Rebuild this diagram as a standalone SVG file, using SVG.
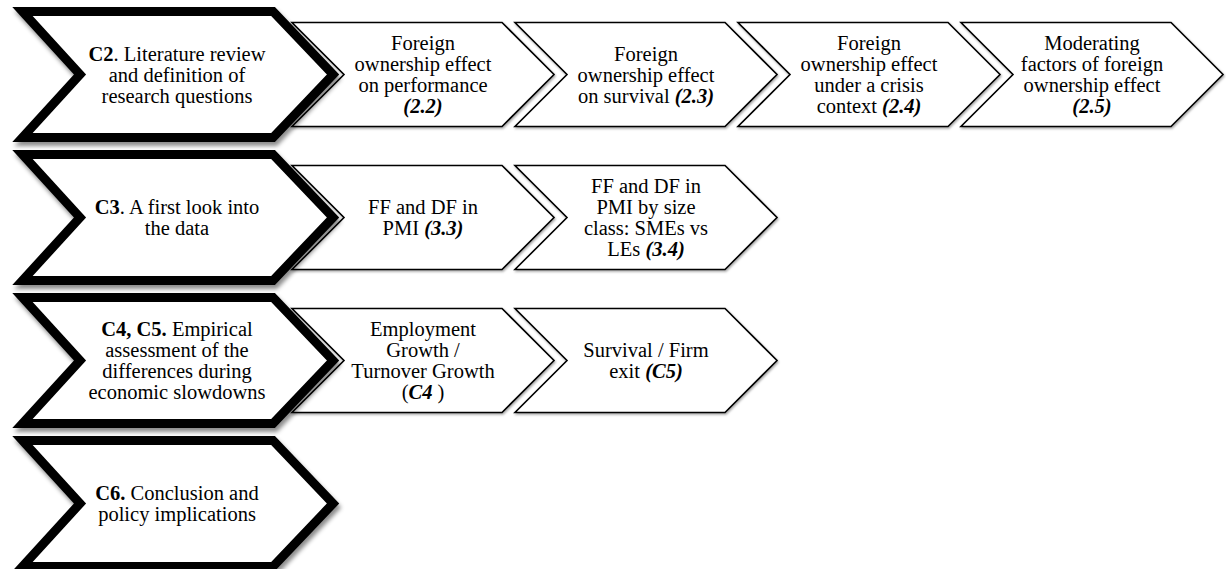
<svg xmlns="http://www.w3.org/2000/svg" width="1226" height="569" viewBox="0 0 1226 569" font-family="'Liberation Serif', 'Times New Roman', 'DejaVu Serif', serif">
<style>
.big{fill:#fff;stroke:#000;stroke-width:9;stroke-linejoin:miter;stroke-miterlimit:10;filter:url(#sh)}
.small{fill:#fff;stroke:#000;stroke-width:1.6;stroke-linejoin:miter;filter:url(#sh2)}
text{font-family:'Liberation Serif','Times New Roman','DejaVu Serif',serif;font-size:20.5px;fill:#000;text-anchor:middle}
.b{font-weight:bold}
.bi{font-weight:bold;font-style:italic}
</style>
<defs>
<filter id="sh" x="-10%" y="-10%" width="130%" height="140%">
<feDropShadow dx="2" dy="4" stdDeviation="2" flood-color="#000" flood-opacity="0.45"/>
</filter>
<filter id="sh2" x="-10%" y="-10%" width="130%" height="140%">
<feDropShadow dx="1" dy="1.5" stdDeviation="0.8" flood-color="#000" flood-opacity="0.35"/>
</filter>
<path id="sc" d="M0,-52 H210 L262,0 L210,52 H0 L52,0 Z"/>
<path id="bc" d="M22.5,-63 H273 L333,0 L273,63 H22.5 L80,0 Z"/>
</defs>
<g id="connectors"/>
<g id="n-2-2">
<use href="#sc" class="small" transform="translate(292,74.5)"/>
<text x="423" y="50" font-family="Liberation Serif, serif">Foreign</text>
<text x="423" y="71" font-family="Liberation Serif, serif">ownership effect</text>
<text x="423" y="92" font-family="Liberation Serif, serif">on performance</text>
<text x="423" y="113" font-family="Liberation Serif, serif"><tspan class="bi">(2.2)</tspan></text>
</g>
<g id="n-2-3">
<use href="#sc" class="small" transform="translate(515,74.5)"/>
<text x="646" y="60.5" font-family="Liberation Serif, serif">Foreign</text>
<text x="646" y="81.5" font-family="Liberation Serif, serif">ownership effect</text>
<text x="646" y="102.5" font-family="Liberation Serif, serif">on survival <tspan class="bi">(2.3)</tspan></text>
</g>
<g id="n-2-4">
<use href="#sc" class="small" transform="translate(738,74.5)"/>
<text x="869" y="50" font-family="Liberation Serif, serif">Foreign</text>
<text x="869" y="71" font-family="Liberation Serif, serif">ownership effect</text>
<text x="869" y="92" font-family="Liberation Serif, serif">under a crisis</text>
<text x="869" y="113" font-family="Liberation Serif, serif">context <tspan class="bi">(2.4)</tspan></text>
</g>
<g id="n-2-5">
<use href="#sc" class="small" transform="translate(961,74.5)"/>
<text x="1092" y="50" font-family="Liberation Serif, serif">Moderating</text>
<text x="1092" y="71" font-family="Liberation Serif, serif">factors of foreign</text>
<text x="1092" y="92" font-family="Liberation Serif, serif">ownership effect</text>
<text x="1092" y="113" font-family="Liberation Serif, serif"><tspan class="bi">(2.5)</tspan></text>
</g>
<g id="n-3-3">
<use href="#sc" class="small" transform="translate(292,217.5)"/>
<text x="423" y="214" font-family="Liberation Serif, serif">FF and DF in</text>
<text x="423" y="235" font-family="Liberation Serif, serif">PMI <tspan class="bi">(3.3)</tspan></text>
</g>
<g id="n-3-4">
<use href="#sc" class="small" transform="translate(515,217.5)"/>
<text x="646" y="193" font-family="Liberation Serif, serif">FF and DF in</text>
<text x="646" y="214" font-family="Liberation Serif, serif">PMI by size</text>
<text x="646" y="235" font-family="Liberation Serif, serif">class: SMEs vs</text>
<text x="646" y="256" font-family="Liberation Serif, serif">LEs <tspan class="bi">(3.4)</tspan></text>
</g>
<g id="n-c4">
<use href="#sc" class="small" transform="translate(292,360.5)"/>
<text x="423" y="336" font-family="Liberation Serif, serif">Employment</text>
<text x="423" y="357" font-family="Liberation Serif, serif">Growth /</text>
<text x="423" y="378" font-family="Liberation Serif, serif">Turnover Growth</text>
<text x="423" y="399" font-family="Liberation Serif, serif">(<tspan class="bi">C4</tspan> )</text>
</g>
<g id="n-c5">
<use href="#sc" class="small" transform="translate(515,360.5)"/>
<text x="646" y="357" font-family="Liberation Serif, serif">Survival / Firm</text>
<text x="646" y="378" font-family="Liberation Serif, serif">exit <tspan class="bi">(C5)</tspan></text>
</g>
<g id="n-c2">
<use href="#bc" class="big" transform="translate(0,74.5)"/>
<text x="177" y="60.5" font-family="Liberation Serif, serif"><tspan class="b">C2</tspan>. Literature review</text>
<text x="177" y="81.5" font-family="Liberation Serif, serif">and definition of</text>
<text x="177" y="102.5" font-family="Liberation Serif, serif">research questions</text>
</g>
<g id="n-c3">
<use href="#bc" class="big" transform="translate(0,217.5)"/>
<text x="177" y="214" font-family="Liberation Serif, serif"><tspan class="b">C3</tspan>. A first look into</text>
<text x="177" y="235" font-family="Liberation Serif, serif">the data</text>
</g>
<g id="n-c45">
<use href="#bc" class="big" transform="translate(0,360.5)"/>
<text x="177" y="336" font-family="Liberation Serif, serif"><tspan class="b">C4, C5.</tspan> Empirical</text>
<text x="177" y="357" font-family="Liberation Serif, serif">assessment of the</text>
<text x="177" y="378" font-family="Liberation Serif, serif">differences during</text>
<text x="177" y="399" font-family="Liberation Serif, serif">economic slowdowns</text>
</g>
<g id="n-c6">
<use href="#bc" class="big" transform="translate(0,503.5)"/>
<text x="177" y="500" font-family="Liberation Serif, serif"><tspan class="b">C6.</tspan> Conclusion and</text>
<text x="177" y="521" font-family="Liberation Serif, serif">policy implications</text>
</g>
</svg>
